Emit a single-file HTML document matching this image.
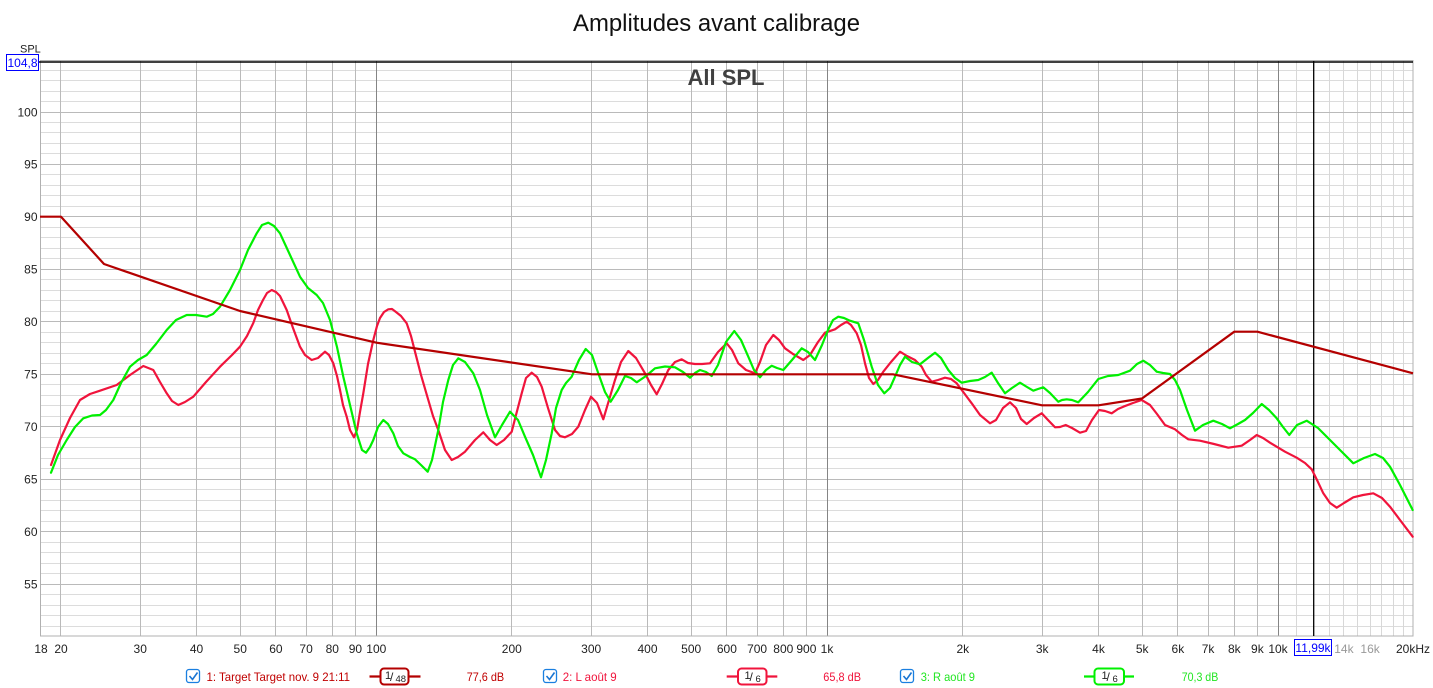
<!DOCTYPE html>
<html><head><meta charset="utf-8"><style>
html,body{margin:0;padding:0;background:#fff;}
svg{display:block;font-family:"Liberation Sans",Arial,sans-serif;}
</style></head><body>
<svg width="1433" height="688" viewBox="0 0 1433 688" xmlns="http://www.w3.org/2000/svg">
<rect width="1433" height="688" fill="#fff"/>
<!-- title -->
<text x="716.5" y="31" font-size="24" text-anchor="middle" fill="#111" textLength="287" lengthAdjust="spacingAndGlyphs">Amplitudes avant calibrage</text>

<!-- minor horizontal -->
<path stroke="#dcdcdc" stroke-width="1" fill="none" d="M40 70.5H1413M40 80.5H1413M40 91.5H1413M40 101.5H1413M40 122.5H1413M40 132.5H1413M40 143.5H1413M40 153.5H1413M40 174.5H1413M40 185.5H1413M40 195.5H1413M40 206.5H1413M40 227.5H1413M40 237.5H1413M40 248.5H1413M40 258.5H1413M40 279.5H1413M40 290.5H1413M40 300.5H1413M40 311.5H1413M40 332.5H1413M40 342.5H1413M40 353.5H1413M40 363.5H1413M40 384.5H1413M40 395.5H1413M40 405.5H1413M40 416.5H1413M40 437.5H1413M40 447.5H1413M40 458.5H1413M40 468.5H1413M40 489.5H1413M40 500.5H1413M40 510.5H1413M40 521.5H1413M40 542.5H1413M40 552.5H1413M40 563.5H1413M40 573.5H1413M40 594.5H1413M40 605.5H1413M40 615.5H1413M40 626.5H1413"/>
<!-- light vertical >10k -->
<path stroke="#d8d8d8" stroke-width="1" fill="none" d="M1296.5 60V636M1329.5 60V636M1343.5 60V636M1357.5 60V636M1370.5 60V636M1381.5 60V636M1393.5 60V636M1403.5 60V636"/>
<!-- major horizontal -->
<path stroke="#bababa" stroke-width="1" fill="none" d="M40 112.5H1413M40 164.5H1413M40 216.5H1413M40 269.5H1413M40 321.5H1413M40 374.5H1413M40 426.5H1413M40 479.5H1413M40 531.5H1413M40 584.5H1413"/>
<!-- major vertical -->
<path stroke="#bababa" stroke-width="1" fill="none" d="M60.5 60V636M140.5 60V636M196.5 60V636M240.5 60V636M275.5 60V636M306.5 60V636M332.5 60V636M355.5 60V636M511.5 60V636M591.5 60V636M647.5 60V636M691.5 60V636M726.5 60V636M757.5 60V636M783.5 60V636M806.5 60V636M962.5 60V636M1042.5 60V636M1098.5 60V636M1142.5 60V636M1177.5 60V636M1208.5 60V636M1234.5 60V636M1257.5 60V636"/>
<!-- decade lines -->
<path stroke="#858585" stroke-width="1" fill="none" d="M376.5 60V636M827.5 60V636M1278.5 60V636"/>
<!-- frame -->
<rect x="40.5" y="60.5" width="1372.5" height="575.5" fill="none" stroke="#b0b0b0" stroke-width="1"/>
<!-- cursor lines -->
<path stroke="#000" stroke-width="1.4" fill="none" d="M39 62H1413"/>
<path stroke="#000" stroke-width="1.3" fill="none" d="M1313.7 61V636"/>

<!-- All SPL -->
<text x="726" y="85" font-size="22" font-weight="bold" text-anchor="middle" fill="#404040">All SPL</text>

<!-- y labels -->
<g font-size="12" fill="#222" text-anchor="end">
<text x="37.5" y="116.5">100</text>
<text x="37.5" y="168.5">95</text>
<text x="37.5" y="221">90</text>
<text x="37.5" y="273.5">85</text>
<text x="37.5" y="326">80</text>
<text x="37.5" y="378.5">75</text>
<text x="37.5" y="431">70</text>
<text x="37.5" y="483.5">65</text>
<text x="37.5" y="536">60</text>
<text x="37.5" y="588.5">55</text>
</g>
<text x="20" y="52.5" font-size="11" fill="#222">SPL</text>
<rect x="6.5" y="54.5" width="32" height="16" fill="#fff" stroke="#0000ff" stroke-width="1"/>
<text x="22.5" y="67" font-size="12" fill="#0000ff" text-anchor="middle">104,8</text>

<!-- x labels -->
<g font-size="12" fill="#222" text-anchor="middle">
<text x="41" y="653">18</text>
<text x="61" y="653">20</text>
<text x="140.2" y="653">30</text>
<text x="196.5" y="653">40</text>
<text x="240.2" y="653">50</text>
<text x="275.9" y="653">60</text>
<text x="306.1" y="653">70</text>
<text x="332.3" y="653">80</text>
<text x="355.4" y="653">90</text>
<text x="376.3" y="653">100</text>
<text x="511.8" y="653">200</text>
<text x="591.2" y="653">300</text>
<text x="647.5" y="653">400</text>
<text x="691.2" y="653">500</text>
<text x="726.9" y="653">600</text>
<text x="757.1" y="653">700</text>
<text x="783.3" y="653">800</text>
<text x="806.4" y="653">900</text>
<text x="827" y="653">1k</text>
<text x="962.8" y="653">2k</text>
<text x="1042.2" y="653">3k</text>
<text x="1098.5" y="653">4k</text>
<text x="1142.2" y="653">5k</text>
<text x="1177.9" y="653">6k</text>
<text x="1208.1" y="653">7k</text>
<text x="1234.3" y="653">8k</text>
<text x="1257.4" y="653">9k</text>
<text x="1278" y="653">10k</text>
<text x="1343.9" y="653" fill="#999">14k</text>
<text x="1370.1" y="653" fill="#999">16k</text>
<text x="1413" y="653">20kHz</text>
</g>
<rect x="1294.5" y="639.5" width="37" height="16" fill="#fff" stroke="#0000ff" stroke-width="1"/>
<text x="1313" y="652" font-size="12" fill="#0000ff" text-anchor="middle">11,99k</text>

<!-- L (red) -->
<polyline fill="none" stroke="#f0143c" stroke-width="2.2" stroke-linejoin="round" stroke-linecap="round" points="51,465 60,440 70,418 80,400 90,394 100,390.7 116.7,385 130,375 143.3,366 153.3,370 160,382 166.7,393.3 172,401 178.3,405 185,402 193.3,396.7 206,382 220,366.7 232,355 240,346.7 247,336 253.3,323 258,310 263,300 267,293 271.7,290 276,292 280,296 286.7,310 293,328 300,346.7 305,355 311.7,360 318,358 325,351.7 329,355 333.3,363.3 337,376 340,390 343,405 346.7,416.7 350,430 354,437.3 357,430 360,412 363.3,393.3 368,364 373.3,340 377,326 380,318 384,312 388.3,309.3 392,309 396,312 401,316 406.7,323.3 411,336 415,351.7 421,375 428.3,400 433,416 438.3,430 445,450 451.7,460 458,457 465,451.7 475,440 483.3,432.3 490,440 496.7,445 504,440 511.7,431.7 516,415 521.7,393.3 526,378 531.7,372.7 537,377 541.7,386.7 548,408 555,430 560,436 565,437.3 572,434 578.3,426.7 585,410 591,396.7 597,403 603.3,419.3 609,400 615,380 621,362 628.3,351 636,358 645,373.3 651,385 656.7,394.3 662,384 668.3,370 675,362 681.7,359.3 688,363 695,364 702,364 710,363.3 718,352 726.7,343.3 732,350 738.3,363.3 746,370 755,373.3 760,362 766,345 773.3,335 779,340 785,348.3 793,354 803.3,360 810,355 818,342 825,332.7 835,329.3 841,325 846.7,321.7 851,325 856.7,333.3 861,345 865,363.3 869,378 873.3,384 878,380 883.3,371.7 891,362 900,351.7 907,356 915,360 921.7,366.7 926,375 931.7,381.7 938,380 945,377.7 951,379 956.7,383.3 964,393 971.7,403.3 980,415 990,423.3 996,420 1003,408 1010,402.3 1016,408 1021,419 1026.7,424 1034,418 1041.7,413.3 1048,420 1055,427.3 1060,427 1065.7,425 1072,428 1080,432.7 1086,431 1092,420 1099,410 1105,411 1111.7,413.3 1118,409 1123.3,406.7 1133,403 1141.7,400 1150,405 1157,414 1165,425 1175,429.3 1182,435 1188.3,439.3 1200,440.7 1214,444 1228.3,447.7 1241.7,445.7 1250,440 1256.7,435 1263,438 1270,442.7 1285,451.7 1296.7,457.7 1305,463 1311.7,469.3 1317,480 1323.3,493.3 1330,503 1336.7,507.7 1344,503 1353.3,497.3 1363,495 1373.3,493.3 1382,498 1390,506.7 1400,520 1412.7,536.7"/>

<!-- R (green) -->
<polyline fill="none" stroke="#00f000" stroke-width="2.2" stroke-linejoin="round" stroke-linecap="round" points="51,472.7 58,455 66.7,440 75,427 83.3,418.3 92,415.5 100,415 106,410 113.3,400 121,383 130,366.7 138,360 146.7,355 156,344 166.7,330 176,320 186.7,315 196,315 206.7,316.7 213,314 220,306.7 230,290 240,270 248,250 256.7,233.3 262,225 268.3,222.7 274,226 280,233.3 290,255 300,276.7 308,288 316.7,295 323,303 330,320 337,347 343.3,376.7 350,405 356.7,433.3 362,450 366,452.7 370,447 373.3,440 378,427 383.3,420 388,424 393.3,433.3 398,446 403.3,453.3 410,457 415,459.3 421,465 427.7,471.7 432,460 438.3,430 443,402 448.3,380 453,365 458.3,358.3 465,362 473.3,373.3 480,390 487,415 495,437.3 502,425 510,411.7 518,420 525,436.7 533,455 541,477.3 546,460 551.7,433.3 556,408 561.7,390 566,383 571.7,376.7 579,360 585.7,349 592,355 598.3,373.3 605,392 610.7,401.7 618,390 625,376 631,378 636.7,382.3 646,376 655,368.3 665,366.5 675,367.3 683,372 690,377.7 695,373 700,370 706,372 711.7,376 718,365 726,342 734.3,331 741,340 748.3,356.7 754,370 760,377.3 766,370 771.7,365.7 777,368 783.3,370 792,360 801.7,348.3 808,352 815,360 822,345 828,330 833,320 838.3,316.7 844,318 850,320.7 858.3,323.3 864,340 871.7,366.7 878,385 884.3,393.3 890,388 895,376.7 900,365 905,356.7 912,362 920,364.3 928,358 935,352.7 941,358 948.3,370 955,378 961.7,382.7 970,381 978.3,380 985,377 991.7,372.7 998,383 1005,393.3 1012,388 1020,382.7 1027,387 1033.3,390.7 1038,389 1043.3,387.3 1050,393 1058.3,401.7 1062,400 1066.7,399.3 1072,400 1078.3,402.3 1088,392 1098.3,379 1108,376 1118.3,375 1130,370.7 1137,364 1143.3,360.7 1150,365 1156.7,371.7 1163,373 1170,374 1175,380 1180,390 1187,410 1195,430.7 1203,425 1213.3,420.7 1222,424 1230,428.3 1238,424 1245,420 1253,413 1261.7,404 1269,410 1276.7,418.3 1283,427 1289.3,435 1297,425 1306.7,420.7 1318,428 1330,440 1342,452 1353.3,463.3 1364,458 1375,454 1383,458 1390,466.7 1400,485 1412.7,510"/>

<!-- Target -->
<polyline fill="none" stroke="#b40000" stroke-width="2.2" stroke-linejoin="round" points="40,216.7 61,216.7 104,264 240,311 376.5,342.7 592,374.3 893,374.3 1042,405.3 1098.5,405.3 1142,398.5 1234.3,331.7 1257.4,331.7 1413,373.3"/>

<!-- legend -->
<g>
<rect x="186.5" y="669.5" width="13" height="13" rx="2.5" fill="#fff" stroke="#1a7fe0" stroke-width="1.3"/>
<polyline points="189.5,676 192.5,679.5 197.5,672.5" fill="none" stroke="#1a75d2" stroke-width="1.6"/>
<text x="206.5" y="681" font-size="12" fill="#c00000" textLength="143.5" lengthAdjust="spacingAndGlyphs">1: Target Target nov. 9 21:11</text>
<path d="M369.5 676.5H420.5" stroke="#b40000" stroke-width="2.2"/>
<rect x="380.5" y="668.5" width="28" height="16" rx="3.5" fill="#fff" stroke="#b40000" stroke-width="2"/>
<text x="385" y="679" font-size="11" fill="#222">1</text>
<text x="390" y="681" font-size="12" fill="#222">/</text>
<text x="395.5" y="682" font-size="9.5" fill="#222">48</text>
<text x="466.7" y="681" font-size="12" fill="#c00000" textLength="37.5" lengthAdjust="spacingAndGlyphs">77,6 dB</text>

<rect x="543.5" y="669.5" width="13" height="13" rx="2.5" fill="#fff" stroke="#1a7fe0" stroke-width="1.3"/>
<polyline points="546.5,676 549.5,679.5 554.5,672.5" fill="none" stroke="#1a75d2" stroke-width="1.6"/>
<text x="562.7" y="681" font-size="12" fill="#f0143c" textLength="54" lengthAdjust="spacingAndGlyphs">2: L août 9</text>
<path d="M726.7 676.5H777.3" stroke="#f0143c" stroke-width="2.2"/>
<rect x="738" y="668.5" width="28.5" height="16" rx="3.5" fill="#fff" stroke="#f0143c" stroke-width="2"/>
<text x="744.5" y="679" font-size="11" fill="#222">1</text>
<text x="749.5" y="681" font-size="12" fill="#222">/</text>
<text x="755.5" y="682" font-size="9.5" fill="#222">6</text>
<text x="823.3" y="681" font-size="12" fill="#f0143c" textLength="37.7" lengthAdjust="spacingAndGlyphs">65,8 dB</text>

<rect x="900.5" y="669.5" width="13" height="13" rx="2.5" fill="#fff" stroke="#1a7fe0" stroke-width="1.3"/>
<polyline points="903.5,676 906.5,679.5 911.5,672.5" fill="none" stroke="#1a75d2" stroke-width="1.6"/>
<text x="920.7" y="681" font-size="12" fill="#22e622" textLength="54.3" lengthAdjust="spacingAndGlyphs">3: R août 9</text>
<path d="M1084 676.5H1134" stroke="#00f000" stroke-width="2.2"/>
<rect x="1094.5" y="668.5" width="29.5" height="16" rx="3.5" fill="#fff" stroke="#00f000" stroke-width="2"/>
<text x="1101.5" y="679" font-size="11" fill="#222">1</text>
<text x="1106.5" y="681" font-size="12" fill="#222">/</text>
<text x="1112.5" y="682" font-size="9.5" fill="#222">6</text>
<text x="1181.7" y="681" font-size="12" fill="#22e622" textLength="36.6" lengthAdjust="spacingAndGlyphs">70,3 dB</text>
</g>
</svg>
</body></html>
